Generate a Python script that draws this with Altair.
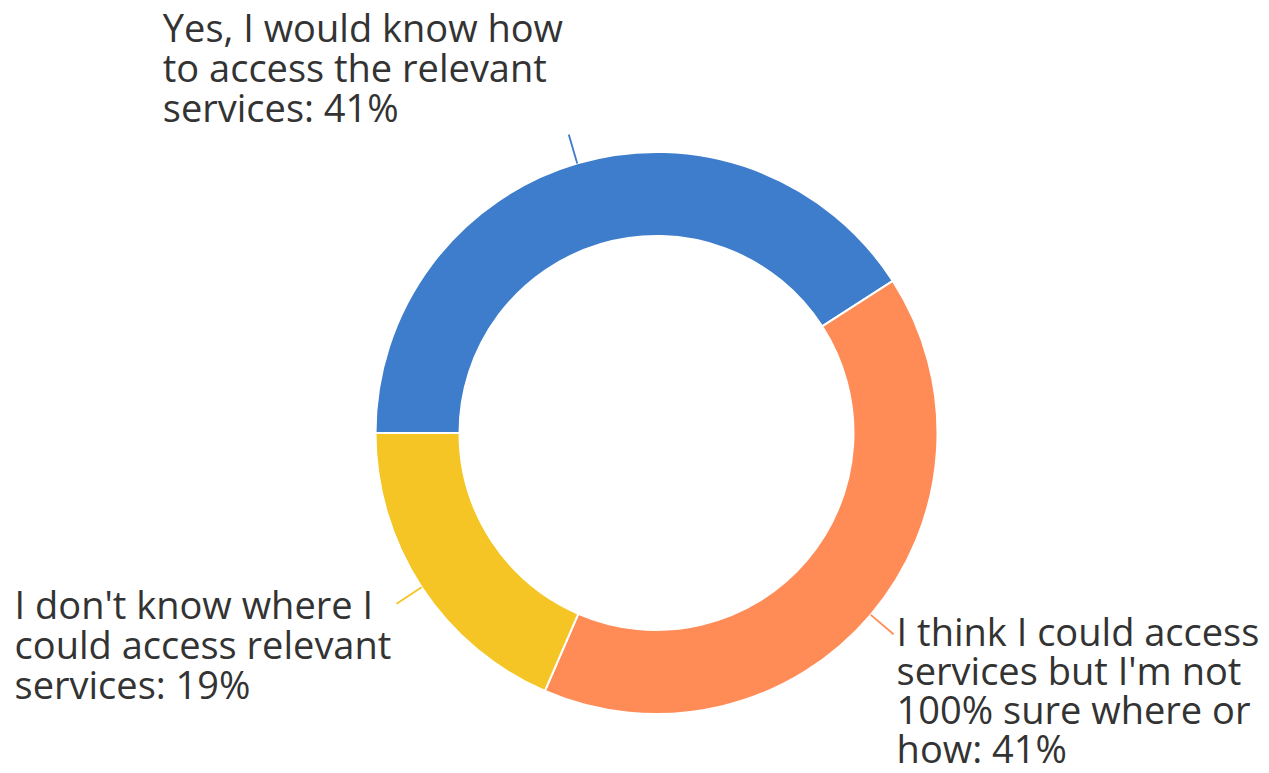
import math
import altair as alt
import pandas as pd

# ---- data ----
categories = [
    "Yes, I would know how to access the relevant services",
    "I think I could access services but I'm not 100% sure where or how",
    "I don't know where I could access relevant services",
]
shares = [40.9, 40.6, 18.5]
label_texts = [
    "Yes, I would know how\nto access the relevant\nservices: 41%",
    "I think I could access\nservices but I'm not\n100% sure where or\nhow: 41%",
    "I don't know where I\ncould access relevant\nservices: 19%",
]
slice_order = [0, 1, 2]
colors = ["#3D7DCC", "#FF8C57", "#F4C524"]

df = pd.DataFrame({
    "category": categories,
    "share": shares,
    "label": label_texts,
    "order": slice_order,
})

# ---- layout / style ----
CX, CY = 648.5, 425.0          # donut centre inside the view
R_OUT, R_IN, R_LEAD = 281, 197, 311
FONT = "Open Sans"
FONT_SIZE = 38
TEXT_COLOR = "#333333"

theta_scale = alt.Scale(domain=[0, sum(shares)], range=[1.5 * math.pi, 3.5 * math.pi])
color_scale = alt.Scale(domain=categories, range=colors)

base = alt.Chart(df).transform_window(
    end="sum(share)", sort=[alt.SortField("order")], frame=[None, 0]
).transform_calculate(
    start="datum.end - datum.share",
    mid="datum.end - datum.share / 2",
)

arcs = base.mark_arc(radius=R_OUT, radius2=R_IN, stroke="white", strokeWidth=2).encode(
    theta=alt.Theta("start:Q", scale=theta_scale, stack=None),
    theta2="end:Q",
    color=alt.Color("category:N", scale=color_scale, legend=None),
    x=alt.value(CX),
    y=alt.value(CY),
)

leaders = base.mark_arc(radius=R_LEAD, radius2=R_OUT, strokeWidth=1.8, fillOpacity=0).encode(
    theta=alt.Theta("mid:Q", scale=theta_scale, stack=None),
    theta2="mid:Q",
    stroke=alt.Stroke("category:N", scale=color_scale, legend=None),
    x=alt.value(CX),
    y=alt.value(CY),
)

# per-label offsets from the end of its leader line, and line spacing
offsets = {0: (-406, -92.5, 40), 1: (3, 12, 39), 2: (-382, 15, 40)}
texts = []
for i, (dx, dy, lh) in offsets.items():
    texts.append(
        base.transform_filter(alt.datum.order == i).mark_text(
            align="left", baseline="alphabetic", dx=dx, dy=dy,
            font=FONT, fontSize=FONT_SIZE, color=TEXT_COLOR,
            lineBreak="\n", lineHeight=lh,
        ).encode(
            theta=alt.Theta("mid:Q", scale=theta_scale, stack=None),
            radius=alt.value(R_LEAD),
            text="label:N",
            x=alt.value(CX),
            y=alt.value(CY),
        )
    )

chart = alt.layer(arcs, leaders, *texts).properties(
    width=1253, height=755,
    padding=0,
    autosize="none",
).configure_view(stroke=None)

chart.save("out.html", embed_options={"renderer": "svg", "actions": False})
